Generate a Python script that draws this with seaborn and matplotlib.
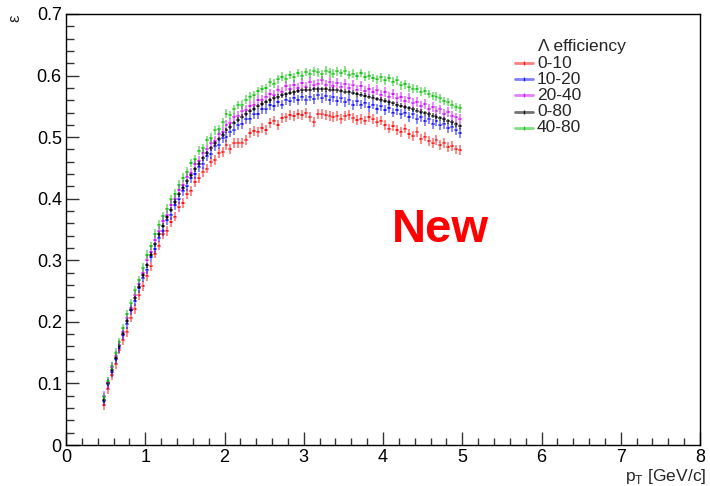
import numpy as np
import pandas as pd
import matplotlib
matplotlib.use("Agg")
import matplotlib.pyplot as plt
from matplotlib.lines import Line2D
from matplotlib.ticker import MultipleLocator, FuncFormatter
import seaborn as sns

pt = [0.475, 0.525, 0.575, 0.625, 0.675, 0.725, 0.775, 0.825, 0.875, 0.925,
      0.975, 1.025, 1.075, 1.125, 1.175, 1.225, 1.275, 1.325, 1.375, 1.425,
      1.475, 1.525, 1.575, 1.625, 1.675, 1.725, 1.775, 1.825, 1.875, 1.925,
      1.975, 2.025, 2.075, 2.125, 2.175, 2.225, 2.275, 2.325, 2.375, 2.425,
      2.475, 2.525, 2.575, 2.625, 2.675, 2.725, 2.775, 2.825, 2.875, 2.925,
      2.975, 3.025, 3.075, 3.125, 3.175, 3.225, 3.275, 3.325, 3.375, 3.425,
      3.475, 3.525, 3.575, 3.625, 3.675, 3.725, 3.775, 3.825, 3.875, 3.925,
      3.975, 4.025, 4.075, 4.125, 4.175, 4.225, 4.275, 4.325, 4.375, 4.425,
      4.475, 4.525, 4.575, 4.625, 4.675, 4.725, 4.775, 4.825, 4.875, 4.925,
      4.975]

eff_0_10 = [0.065, 0.091, 0.114, 0.131, 0.155, 0.171, 0.184, 0.207, 0.221, 0.243,
            0.258, 0.275, 0.290, 0.311, 0.324, 0.342, 0.348, 0.362, 0.371, 0.386,
            0.393, 0.407, 0.413, 0.427, 0.433, 0.444, 0.449, 0.460, 0.463, 0.474,
            0.476, 0.487, 0.481, 0.490, 0.491, 0.491, 0.496, 0.507, 0.510, 0.509,
            0.515, 0.512, 0.523, 0.527, 0.520, 0.531, 0.532, 0.536, 0.534, 0.538,
            0.536, 0.539, 0.533, 0.525, 0.538, 0.537, 0.536, 0.535, 0.533, 0.535,
            0.530, 0.534, 0.536, 0.531, 0.528, 0.530, 0.527, 0.533, 0.529, 0.524,
            0.527, 0.520, 0.514, 0.518, 0.512, 0.509, 0.514, 0.505, 0.502, 0.509,
            0.497, 0.501, 0.494, 0.490, 0.496, 0.487, 0.491, 0.484, 0.486, 0.480,
            0.479]

eff_10_20 = [0.071, 0.099, 0.118, 0.139, 0.157, 0.178, 0.197, 0.219, 0.234, 0.255,
             0.272, 0.285, 0.305, 0.318, 0.337, 0.348, 0.365, 0.374, 0.390, 0.399,
             0.413, 0.420, 0.433, 0.440, 0.452, 0.457, 0.469, 0.473, 0.485, 0.488,
             0.498, 0.500, 0.509, 0.511, 0.519, 0.521, 0.529, 0.530, 0.537, 0.538,
             0.546, 0.545, 0.552, 0.551, 0.557, 0.553, 0.561, 0.558, 0.564, 0.560,
             0.566, 0.561, 0.566, 0.562, 0.568, 0.563, 0.567, 0.560, 0.565, 0.559,
             0.563, 0.557, 0.561, 0.552, 0.558, 0.553, 0.556, 0.549, 0.553, 0.546,
             0.550, 0.544, 0.547, 0.540, 0.544, 0.537, 0.540, 0.533, 0.537, 0.529,
             0.533, 0.526, 0.530, 0.522, 0.526, 0.519, 0.522, 0.515, 0.517, 0.511,
             0.507]

eff_20_40 = [0.079, 0.101, 0.127, 0.145, 0.163, 0.184, 0.206, 0.223, 0.243, 0.262,
             0.279, 0.300, 0.314, 0.333, 0.347, 0.364, 0.373, 0.390, 0.400, 0.414,
             0.422, 0.436, 0.442, 0.456, 0.462, 0.474, 0.480, 0.490, 0.494, 0.505,
             0.509, 0.520, 0.523, 0.532, 0.535, 0.542, 0.544, 0.551, 0.553, 0.560,
             0.561, 0.566, 0.570, 0.568, 0.577, 0.574, 0.583, 0.578, 0.585, 0.580,
             0.588, 0.582, 0.590, 0.584, 0.587, 0.592, 0.585, 0.589, 0.583, 0.588,
             0.582, 0.586, 0.580, 0.584, 0.577, 0.583, 0.575, 0.578, 0.573, 0.576,
             0.569, 0.573, 0.566, 0.570, 0.563, 0.565, 0.559, 0.563, 0.555, 0.557,
             0.551, 0.554, 0.546, 0.549, 0.543, 0.545, 0.538, 0.541, 0.534, 0.532,
             0.529]

eff_0_80 = [0.073, 0.100, 0.121, 0.141, 0.160, 0.181, 0.201, 0.220, 0.238, 0.257,
            0.276, 0.292, 0.309, 0.326, 0.342, 0.356, 0.370, 0.382, 0.395, 0.407,
            0.418, 0.428, 0.438, 0.448, 0.457, 0.466, 0.474, 0.482, 0.490, 0.497,
            0.504, 0.511, 0.517, 0.523, 0.528, 0.533, 0.538, 0.542, 0.546, 0.550,
            0.554, 0.557, 0.560, 0.563, 0.566, 0.568, 0.570, 0.572, 0.573, 0.575,
            0.576, 0.577, 0.577, 0.578, 0.578, 0.578, 0.578, 0.577, 0.577, 0.576,
            0.575, 0.574, 0.573, 0.572, 0.570, 0.569, 0.567, 0.566, 0.564, 0.562,
            0.561, 0.559, 0.557, 0.555, 0.553, 0.551, 0.549, 0.547, 0.545, 0.543,
            0.541, 0.539, 0.537, 0.535, 0.533, 0.531, 0.529, 0.526, 0.524, 0.521,
            0.518]

eff_40_80 = [0.078, 0.104, 0.128, 0.150, 0.167, 0.190, 0.212, 0.230, 0.251, 0.268,
             0.288, 0.309, 0.323, 0.343, 0.358, 0.372, 0.384, 0.399, 0.408, 0.423,
             0.434, 0.444, 0.458, 0.464, 0.478, 0.482, 0.495, 0.499, 0.511, 0.513,
             0.524, 0.538, 0.536, 0.545, 0.552, 0.553, 0.561, 0.566, 0.568, 0.575,
             0.578, 0.580, 0.589, 0.587, 0.594, 0.598, 0.595, 0.601, 0.597, 0.604,
             0.600, 0.606, 0.603, 0.607, 0.605, 0.602, 0.608, 0.605, 0.603, 0.607,
             0.604, 0.608, 0.601, 0.603, 0.599, 0.604, 0.598, 0.600, 0.596, 0.594,
             0.597, 0.592, 0.596, 0.590, 0.592, 0.584, 0.586, 0.581, 0.579, 0.578,
             0.574, 0.575, 0.570, 0.567, 0.566, 0.563, 0.559, 0.557, 0.553, 0.549,
             0.547]

labels = ["0-10", "10-20", "20-40", "0-80", "40-80"]
series = [eff_0_10, eff_10_20, eff_20_40, eff_0_80, eff_40_80]
y_err = [0.008, 0.008, 0.008, 0.004, 0.007]
colors = {"0-10": "#ff0000", "10-20": "#0000ff", "20-40": "#cc00ff",
          "0-80": "#000000", "40-80": "#00c000"}
alphas = {"0-10": 0.5, "10-20": 0.5, "20-40": 0.5, "0-80": 0.55, "40-80": 0.5}

sns.set_theme(style="ticks")
plt.rcParams["font.family"] = ["Liberation Sans", "DejaVu Sans"]
plt.rcParams["mathtext.fontset"] = "custom"
plt.rcParams["mathtext.rm"] = "Liberation Sans"

df = pd.concat([pd.DataFrame({"pt": pt, "eff": s, "cent": lab})
                for lab, s in zip(labels, series)], ignore_index=True)

fig = plt.figure(figsize=(7.10, 4.86), dpi=100)
ax = fig.add_axes([66 / 710, 41 / 486, 634 / 710, 431 / 486])

for lab, s, e in zip(labels, series, y_err):
    ax.errorbar(pt, s, xerr=0.025, yerr=e, fmt="none", ecolor=colors[lab],
                alpha=alphas[lab], elinewidth=1.3, capsize=0, zorder=2)

sns.scatterplot(data=df, x="pt", y="eff", hue="cent", palette=colors,
                hue_order=labels, marker="s", s=1.2, linewidth=0, alpha=0.7,
                legend=False, ax=ax, zorder=3)

ax.set_xlim(0, 8)
ax.set_ylim(0, 0.7)
ax.xaxis.set_major_locator(MultipleLocator(1))
ax.xaxis.set_minor_locator(MultipleLocator(0.2))
ax.yaxis.set_major_locator(MultipleLocator(0.1))
ax.yaxis.set_minor_locator(MultipleLocator(0.02))
ax.xaxis.set_major_formatter(FuncFormatter(lambda v, p: f"{v:g}"))
ax.yaxis.set_major_formatter(FuncFormatter(lambda v, p: f"{v:g}"))
ax.tick_params(axis="both", which="both", direction="in", color="#333333",
               width=1.0, labelsize=13, labelcolor="black")
ax.tick_params(axis="x", which="major", length=9.5, pad=3)
ax.tick_params(axis="x", which="minor", length=5)
ax.tick_params(axis="y", which="major", length=9.5, pad=3)
ax.tick_params(axis="y", which="minor", length=5.5)
ax.tick_params(top=False, right=False, which="both")
for sp in ax.spines.values():
    sp.set_visible(True)
    sp.set_color("black")
    sp.set_linewidth(1.0)

ax.set_xlabel("")
ax.set_ylabel("")
fig.text(706 / 710, 1 - 476 / 486, r"p$_\mathregular{T}$ [GeV/c]", ha="right",
         va="center", fontsize=12.5)
fig.text(15 / 710, 1 - 18 / 486, "ε", rotation=90, ha="center", va="center",
         fontsize=12)

fig.text(440 / 710, 1 - 230 / 486, "New", color="#ff0000", fontsize=34,
         fontweight="bold", ha="center", va="center")

# legend
fig.text(538 / 710, 1 - 46 / 486, "Λ efficiency", fontsize=12.5, ha="left",
         va="center")
for k, lab in enumerate(labels):
    yy = 1 - (63 + 16.2 * k) / 486
    fig.add_artist(Line2D([515 / 710, 533 / 710], [yy, yy], color=colors[lab],
                          alpha=alphas[lab], lw=2.0, transform=fig.transFigure))
    fig.add_artist(Line2D([524 / 710], [yy], color=colors[lab], marker="|",
                          ms=3, mew=1, alpha=0.8, transform=fig.transFigure))
    fig.text(537 / 710, yy, lab, fontsize=12.5, ha="left", va="center")

fig.savefig("out.png", dpi=100)
